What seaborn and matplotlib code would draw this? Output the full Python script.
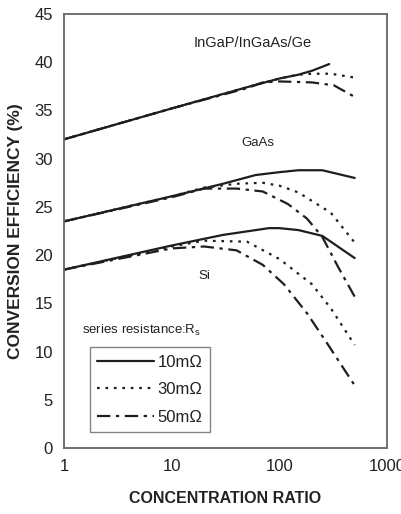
import numpy as np
import pandas as pd
import seaborn as sns
import matplotlib
matplotlib.use("Agg")
import matplotlib.pyplot as plt

# ---- data ----
resistances = ["10mΩ", "30mΩ", "50mΩ"]

ingap_x_10 = [1, 10, 50, 100, 150, 200, 290]
ingap_y_10 = [32.0, 35.2, 37.4, 38.3, 38.7, 39.1, 39.8]
ingap_x_30 = [1, 10, 50, 100, 150, 200, 300, 500]
ingap_y_30 = [32.0, 35.2, 37.4, 38.3, 38.7, 38.8, 38.8, 38.4]
ingap_x_50 = [1, 10, 50, 70, 100, 200, 320, 500]
ingap_y_50 = [32.0, 35.2, 37.3, 37.9, 38.0, 37.9, 37.6, 36.4]

gaas_x_10 = [1, 10, 30, 60, 100, 150, 250, 500]
gaas_y_10 = [23.5, 26.1, 27.4, 28.3, 28.6, 28.8, 28.8, 28.0]
gaas_x_30 = [1, 10, 20, 40, 70, 100, 150, 300, 500]
gaas_y_30 = [23.5, 26.1, 27.0, 27.4, 27.5, 27.2, 26.5, 24.4, 21.3]
gaas_x_50 = [1, 10, 20, 40, 70, 120, 180, 250, 350, 500]
gaas_y_50 = [23.5, 26.0, 26.9, 26.9, 26.6, 25.3, 23.8, 21.9, 18.8, 15.7]

si_x_10 = [1, 10, 30, 80, 100, 150, 250, 500]
si_y_10 = [18.5, 21.0, 22.1, 22.8, 22.8, 22.6, 22.0, 19.7]
si_x_30 = [1, 10, 20, 50, 100, 200, 300, 500]
si_y_30 = [18.5, 20.9, 21.5, 21.4, 19.6, 17.0, 14.5, 10.7]
si_x_50 = [1, 10, 20, 40, 70, 110, 180, 280, 500]
si_y_50 = [18.5, 20.7, 20.9, 20.5, 19.0, 17.0, 14.0, 10.8, 6.5]

x_ticks = [1, 10, 100, 1000]
x_tick_labels = ["1", "10", "100", "1000"]
y_ticks = [0, 5, 10, 15, 20, 25, 30, 35, 40, 45]

series = {
    ("InGaP", "10mΩ"): (ingap_x_10, ingap_y_10),
    ("InGaP", "30mΩ"): (ingap_x_30, ingap_y_30),
    ("InGaP", "50mΩ"): (ingap_x_50, ingap_y_50),
    ("GaAs", "10mΩ"): (gaas_x_10, gaas_y_10),
    ("GaAs", "30mΩ"): (gaas_x_30, gaas_y_30),
    ("GaAs", "50mΩ"): (gaas_x_50, gaas_y_50),
    ("Si", "10mΩ"): (si_x_10, si_y_10),
    ("Si", "30mΩ"): (si_x_30, si_y_30),
    ("Si", "50mΩ"): (si_x_50, si_y_50),
}
rows = []
for (cell, r), (xs, ys) in series.items():
    for xv, yv in zip(xs, ys):
        rows.append({"cell": cell, "R": r, "x": xv, "y": yv})
df = pd.DataFrame(rows)

sns.set_theme(style="white")
plt.rcParams["font.family"] = ["Liberation Sans", "DejaVu Sans"]

fig = plt.figure(figsize=(4.02, 5.14), dpi=100)
ax = fig.add_axes([0.159, 0.128, 0.804, 0.845])

dashes = {"10mΩ": "", "30mΩ": (1.2, 2.6), "50mΩ": (6, 2.5, 1.5, 2.5)}
sns.lineplot(data=df, x="x", y="y", style="R", units="cell", estimator=None,
             dashes=dashes, style_order=resistances, color="#1e1e1e",
             linewidth=1.6, ax=ax, legend=True, sort=False)

ax.set_xscale("log")
ax.set_xlim(1, 1000)
ax.set_ylim(0, 45)
ax.set_xticks(x_ticks)
ax.set_xticklabels(x_tick_labels)
ax.set_yticks(y_ticks)
ax.minorticks_off()
ax.tick_params(axis="both", direction="in", length=3, width=0.8, colors="#555555",
               labelcolor="#222222", labelsize=12, pad=8)
for s in ax.spines.values():
    s.set_color("#666666")
    s.set_linewidth(1.3)

ax.set_xlabel("CONCENTRATION RATIO", fontsize=11.5, fontweight="bold", color="#222222", labelpad=12)
ax.set_ylabel("CONVERSION EFFICIENCY (%)", fontsize=12.5, fontweight="bold", color="#222222", labelpad=8)

ax.text(56, 42.0, "InGaP/InGaAs/Ge", fontsize=10.5, ha="center", va="center", color="#222222")
ax.text(63, 31.6, "GaAs", fontsize=9.5, ha="center", va="center", color="#222222")
ax.text(20, 17.8, "Si", fontsize=9.5, ha="center", va="center", color="#222222")
ax.text(0.055, 0.272, "series resistance:R$_\\mathregular{s}$", transform=ax.transAxes,
        fontsize=9.5, ha="left", va="center", color="#222222")

leg = ax.legend(loc="lower left", bbox_to_anchor=(0.08, 0.037), borderaxespad=0, fontsize=12,
                handlelength=3.4, handletextpad=0.2, borderpad=0.45, labelspacing=0.75,
                frameon=True, fancybox=False, title=None)
leg.get_frame().set_edgecolor("#666666")
leg.get_frame().set_linewidth(1.0)
for t in leg.get_texts():
    t.set_color("#222222")

fig.savefig("out.png", dpi=100)
